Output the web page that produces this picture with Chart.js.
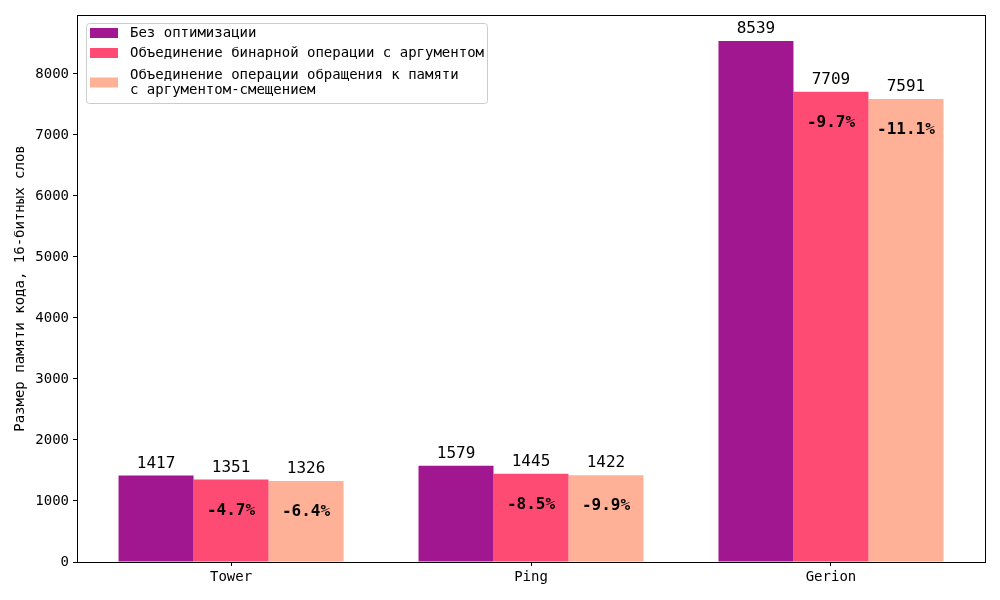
<!DOCTYPE html>
<html>
<head>
<meta charset="utf-8">
<script src="https://cdn.jsdelivr.net/npm/chart.js@4"></script>
<style>
  html, body { margin: 0; padding: 0; background: #fff; }
  #wrap { width: 1000px; height: 600px; }
</style>
</head>
<body>
<div id="wrap"><canvas id="chart" width="1000" height="600"></canvas></div>
<script>
const categories = ['Tower', 'Ping', 'Gerion'];
const seriesNames = [
  ['Без оптимизации'],
  ['Объединение бинарной операции с аргументом'],
  ['Объединение операции обращения к памяти', 'с аргументом-смещением']
];
const noOpt = [1417, 1579, 8539];
const binOp = [1351, 1445, 7709];
const memOp = [1326, 1422, 7591];
const binPct = ['-4.7%', '-8.5%', '-9.7%'];
const memPct = ['-6.4%', '-9.9%', '-11.1%'];
const yTicks = [0, 1000, 2000, 3000, 4000, 5000, 6000, 7000, 8000];
const colors = ['#a0178f', '#fe4b73', '#feb196'];
const yTitle = 'Размер памяти кода, 16-битных слов';
const yMax = 8966;
const xMin = -0.5135, xMax = 2.5135;

const FONT = "'DejaVu Sans Mono', monospace";
Chart.defaults.font.family = FONT;
Chart.defaults.color = '#000';

const pctLabels = [null, binPct, memPct];

const barLabels = {
  id: 'barLabels',
  afterDatasetsDraw(chart) {
    const ctx = chart.ctx;
    const area = chart.chartArea;
    ctx.save();
    // frame
    ctx.strokeStyle = '#000';
    ctx.lineWidth = 1;
    ctx.strokeRect(Math.round(area.left) + 0.5, Math.round(area.top) + 0.5,
      Math.round(area.right - area.left), Math.round(area.bottom - area.top));

    chart.data.datasets.forEach((ds, di) => {
      const meta = chart.getDatasetMeta(di);
      meta.data.forEach((bar, i) => {
        ctx.fillStyle = '#000';
        ctx.textAlign = 'center';
        ctx.textBaseline = 'bottom';
        ctx.font = '16px ' + FONT;
        ctx.fillText(String(ds.data[i].y), bar.x, bar.y - 4);
        if (pctLabels[di]) {
          ctx.font = 'bold 16px ' + FONT;
          ctx.textBaseline = 'middle';
          ctx.fillText(pctLabels[di][i], bar.x, bar.y + 31);
        }
      });
    });

    // legend
    const lx = 86, ly = 23, lw = 401, lh = 80;
    ctx.fillStyle = 'rgba(255,255,255,0.8)';
    ctx.strokeStyle = '#cccccc';
    ctx.beginPath();
    ctx.roundRect(lx + 0.5, ly + 0.5, lw, lh, 3);
    ctx.fill();
    ctx.stroke();
    const rows = [[33], [53], [75, 90]];
    ctx.font = '14px ' + FONT;
    ctx.textAlign = 'left';
    ctx.textBaseline = 'middle';
    seriesNames.forEach((lines, k) => {
      const ys = rows[k];
      const cy = (ys[0] + ys[ys.length - 1]) / 2;
      ctx.fillStyle = colors[k];
      ctx.fillRect(90, cy - 5, 28, 10);
      ctx.fillStyle = '#000';
      lines.forEach((t, j) => ctx.fillText(t, 130, ys[j]));
    });
    ctx.restore();
  }
};

new Chart(document.getElementById('chart'), {
  type: 'bar',
  data: {
    datasets: [noOpt, binOp, memOp].map((d, k) => ({
      label: seriesNames[k].join(' '),
      data: d.map((v, i) => ({ x: i, y: v })),
      backgroundColor: colors[k],
      borderWidth: 0,
      categoryPercentage: 0.75,
      barPercentage: 1.0
    }))
  },
  options: {
    responsive: false,
    animation: false,
    layout: { padding: { left: 0, top: 15, right: 15, bottom: 0 } },
    plugins: { legend: { display: false }, tooltip: { enabled: false } },
    scales: {
      x: {
        type: 'linear',
        min: xMin,
        max: xMax,
        offset: false,
        grid: { display: true, drawOnChartArea: false, offset: false, color: '#000', tickLength: 4 },
        border: { display: true, color: '#000' },
        ticks: { font: { size: 14 }, color: '#000', padding: 3, callback: v => categories[v] },
        afterBuildTicks(s) { s.ticks = categories.map((c, i) => ({ value: i })); },
        afterFit(s) { s.height = 38; }
      },
      y: {
        min: 0,
        max: yMax,
        grid: { display: true, drawOnChartArea: false, color: '#000', tickLength: 4 },
        border: { display: true, color: '#000' },
        ticks: { font: { size: 14 }, color: '#000', padding: 4, callback: v => String(v) },
        afterBuildTicks(s) { s.ticks = yTicks.map(v => ({ value: v })); },
        title: { display: true, text: yTitle, font: { size: 14 }, color: '#000', padding: { top: 12, bottom: 0 } },
        afterFit(s) { s.width = 77; }
      }
    }
  },
  plugins: [barLabels]
});
</script>
</body>
</html>
